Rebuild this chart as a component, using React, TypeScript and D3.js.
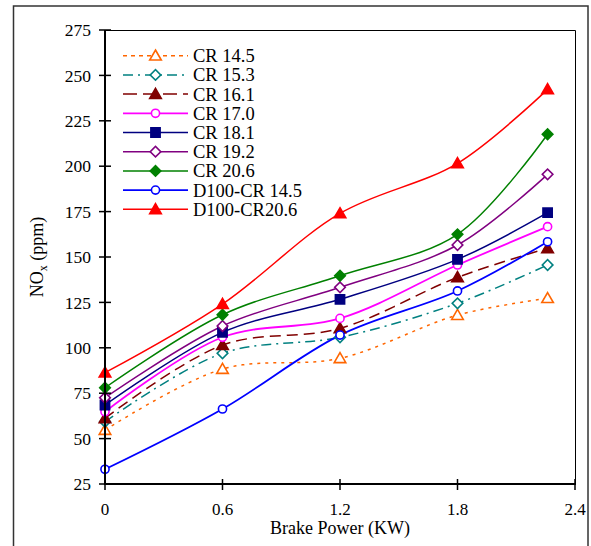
// App.tsx
import * as d3 from "d3";
import React, { useRef, useEffect } from "react";

const brakePower = [0, 0.6, 1.2, 1.8, 2.26];
const seriesNames = [
  "CR 14.5",
  "CR 15.3",
  "CR 16.1",
  "CR 17.0",
  "CR 18.1",
  "CR 19.2",
  "CR 20.6",
  "D100-CR 14.5",
  "D100-CR20.6",
];
const cr145 = [54.7, 88.3, 94.2, 118, 127.3];
const cr153 = [59.3, 97, 105.8, 124.5, 145.6];
const cr161 = [61.2, 101.5, 110.7, 138.8, 154.8];
const cr170 = [64.8, 105.8, 116.2, 145.6, 166.7];
const cr181 = [68.5, 108.5, 126.7, 148.7, 174.4];
const cr192 = [72.5, 112, 133.3, 156.6, 195.5];
const cr206 = [78, 118.2, 139.7, 162.5, 217.6];
const d100cr145 = [33.1, 66.3, 107, 131.3, 158.4];
const d100cr206 = [86.3, 124.1, 174, 201.6, 242.3];
const xTicks = [0, 0.6, 1.2, 1.8, 2.4];
const yTicks = [25, 50, 75, 100, 125, 150, 175, 200, 225, 250, 275];

const seriesValues = [cr145, cr153, cr161, cr170, cr181, cr192, cr206, d100cr145, d100cr206];

// look of each series: colour, dash, marker shape, filled or not
const styles = [
  { color: "#ff6600", dash: "3,5", shape: "triangle", fill: false, legendDash: "4,4" },
  { color: "#008080", dash: "10,5,2,5", shape: "diamond", fill: false, legendDash: "10,5,2,5" },
  { color: "#800000", dash: "11,6", shape: "triangle", fill: true, legendDash: "14,6" },
  { color: "#ff00ff", dash: null, shape: "circle", fill: false },
  { color: "#000080", dash: null, shape: "square", fill: true },
  { color: "#800080", dash: null, shape: "diamond", fill: false },
  { color: "#008000", dash: null, shape: "diamond", fill: true },
  { color: "#0000ff", dash: null, shape: "circle", fill: false },
  { color: "#ff0000", dash: null, shape: "triangle", fill: true },
];

const W = 591;
const H = 546;
const left = 105;
const right = 575;
const top = 30;
const bottom = 484;
const font = "'Liberation Serif', 'Times New Roman', serif";

function symbolPath(shape: string) {
  if (shape === "triangle") return d3.symbol(d3.symbolTriangle, 58)();
  if (shape === "circle") return d3.symbol(d3.symbolCircle, 52)();
  if (shape === "square") return d3.symbol(d3.symbolSquare, 85)();
  return d3.symbol(d3.symbolSquare, 56)();
}

function drawMarker(g: any, shape: string, color: string, fill: boolean, x: number, y: number) {
  const rot = shape === "diamond" ? " rotate(45)" : "";
  const dy = shape === "triangle" ? 1 : 0;
  g.append("path")
    .attr("d", symbolPath(shape))
    .attr("transform", `translate(${x},${y + dy})${rot}`)
    .attr("fill", fill ? color : "#fff")
    .attr("stroke", color)
    .attr("stroke-width", 1.6);
}

function NoxChart() {
  const ref = useRef<SVGSVGElement>(null);

  useEffect(() => {
    const svg = d3.select(ref.current);
    svg.selectAll("*").remove();

    const x = d3.scaleLinear().domain([0, 2.4]).range([left, right]);
    const y = d3.scaleLinear().domain([25, 275]).range([bottom, top]);

    // outer frame
    svg
      .append("rect")
      .attr("x", 13.5)
      .attr("y", 6)
      .attr("width", 574.5)
      .attr("height", 560)
      .attr("fill", "#fff")
      .attr("stroke", "#333")
      .attr("stroke-width", 1.5);

    // thin box on top/right
    svg
      .append("path")
      .attr("d", `M${left},${top + 0.5}H${right + 0.5}V${bottom}`)
      .attr("fill", "none")
      .attr("stroke", "#000")
      .attr("stroke-width", 1);

    const lineGen = d3
      .line<number>()
      .x((d, i) => x(brakePower[i]))
      .y((d) => y(d))
      .curve(d3.curveCatmullRom.alpha(0.5));

    const plot = svg.append("g");
    seriesValues.forEach((vals, si) => {
      const st = styles[si];
      plot
        .append("path")
        .attr("d", lineGen(vals))
        .attr("fill", "none")
        .attr("stroke", st.color)
        .attr("stroke-width", si === 3 || si === 7 ? 1.8 : 1.5)
        .attr("stroke-dasharray", st.dash);
    });
    seriesValues.forEach((vals, si) => {
      const st = styles[si];
      vals.forEach((v, i) => drawMarker(plot, st.shape, st.color, st.fill, x(brakePower[i]), y(v)));
    });

    // axes
    const axes = svg.append("g").attr("stroke", "#000");
    axes
      .append("line")
      .attr("x1", left)
      .attr("x2", left)
      .attr("y1", top)
      .attr("y2", bottom + 1)
      .attr("stroke-width", 2);
    axes
      .append("line")
      .attr("x1", left - 1)
      .attr("x2", right + 1)
      .attr("y1", bottom)
      .attr("y2", bottom)
      .attr("stroke-width", 2);

    yTicks.forEach((t) => {
      axes
        .append("line")
        .attr("x1", left - 6)
        .attr("x2", left + 6)
        .attr("y1", y(t))
        .attr("y2", y(t))
        .attr("stroke-width", 1.5);
      svg
        .append("text")
        .attr("x", 91)
        .attr("y", y(t))
        .attr("dy", "0.35em")
        .attr("text-anchor", "end")
        .attr("font-size", 17.5)
        .text(t);
    });
    xTicks.forEach((t) => {
      axes
        .append("line")
        .attr("x1", x(t))
        .attr("x2", x(t))
        .attr("y1", bottom - 5)
        .attr("y2", bottom + 6)
        .attr("stroke-width", 1.5);
      svg
        .append("text")
        .attr("x", x(t))
        .attr("y", 515)
        .attr("text-anchor", "middle")
        .attr("font-size", 17)
        .text(t);
    });

    svg
      .append("text")
      .attr("x", (left + right) / 2)
      .attr("y", 534)
      .attr("text-anchor", "middle")
      .attr("font-size", 18)
      .text("Brake Power (KW)");

    const yl = svg
      .append("text")
      .attr("transform", `translate(43,${(top + bottom) / 2}) rotate(-90)`)
      .attr("text-anchor", "middle");
    yl.append("tspan").text("NO");
    yl.append("tspan").attr("font-size", 12).attr("dy", 4).text("x");
    yl.append("tspan").attr("dy", -4).text(" (ppm)");

    // legend
    const lg = svg.append("g");
    seriesNames.forEach((name, i) => {
      const st = styles[i];
      const ly = 55.7 + i * 19.2;
      lg.append("line")
        .attr("x1", 123)
        .attr("x2", 188)
        .attr("y1", ly)
        .attr("y2", ly)
        .attr("stroke", st.color)
        .attr("stroke-width", i === 3 || i === 7 ? 1.8 : 1.5)
        .attr("stroke-dasharray", st.legendDash || null);
      drawMarker(lg, st.shape, st.color, st.fill, 155.5, ly);
      lg.append("text")
        .attr("x", 193)
        .attr("y", ly)
        .attr("dy", "0.35em")
        .attr("font-size", 18.5)
        .text(name);
    });
  }, []);

  return (
    <svg
      ref={ref}
      width={W}
      height={H}
      style={{ position: "absolute", left: 0, top: 0, fontFamily: font, fontSize: 18 }}
    ></svg>
  );
}

export default function App() {
  return <NoxChart />;
}
